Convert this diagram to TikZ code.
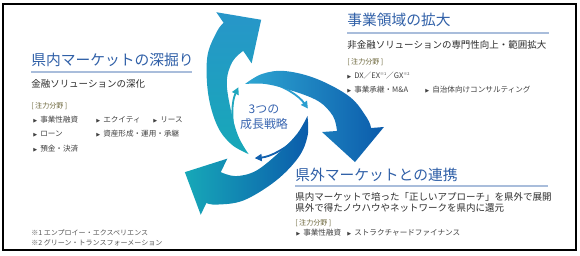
\documentclass[tikz,border=0pt]{standalone}
\usepackage{fontspec}
\setmainfont{Noto Sans CJK JP}
\newfontfamily\symf{DejaVu Sans}
\usepackage{tikz}
\usetikzlibrary{arrows.meta}
\usepackage{xcolor}

\definecolor{ttlblue}{HTML}{2F5FA7}
\definecolor{ruleblue}{HTML}{A9BDDB}
\definecolor{leadtxt}{HTML}{2B2B2B}
\definecolor{focustxt}{HTML}{6A6438}
\definecolor{itemtxt}{HTML}{404040}
\definecolor{notetxt}{HTML}{555555}
\definecolor{coreblue}{HTML}{3A66B0}
\definecolor{arrteal}{HTML}{17A8B8}
\definecolor{arrtealtop}{HTML}{2796C9}
\definecolor{arrlight}{HTML}{2EA6D2}
\definecolor{arrblue}{HTML}{0B5BAB}
\definecolor{pinteal}{HTML}{1FA7BE}
\definecolor{pinlight}{HTML}{2B9ED0}
\definecolor{pinblue}{HTML}{1160AE}

\newcommand{\bul}{{\symf\fontsize{3.6}{4}\selectfont ▶}\hspace{2.2pt}}
\newcommand{\fnm}[1]{\raisebox{0.7ex}{\fontsize{2.8}{3}\selectfont #1}}

\begin{document}
\begin{tikzpicture}[
    x=0.025cm, y=0.025cm,
    ttl/.style={anchor=west, inner sep=0pt, text=ttlblue, font=\fontsize{10.5}{12}\selectfont},
    lead/.style={anchor=west, inner sep=0pt, text=leadtxt, font=\fontsize{6.75}{8}\selectfont},
    focus/.style={anchor=west, inner sep=0pt, text=focustxt, font=\fontsize{5}{6}\selectfont},
    item/.style={anchor=west, inner sep=0pt, text=itemtxt, font=\fontsize{5.4}{6}\selectfont},
    note/.style={anchor=west, inner sep=0pt, text=notetxt, font=\fontsize{5}{6}\selectfont},
    rule/.style={draw=ruleblue, line width=1.3pt},
    core/.style={align=center, inner sep=0pt, text=coreblue, font=\fontsize{8.5}{10.7}\selectfont},
    shA/.style={bottom color=arrteal, top color=arrtealtop},
    shB/.style={left color=arrlight, right color=arrblue},
    shC/.style={left color=arrteal, right color=arrblue},
    pinA/.style={draw=pinteal, line width=1.3pt, -{Triangle[length=5pt,width=5pt]}},
    pinB/.style={draw=pinlight, line width=1.3pt, -{Triangle[length=5pt,width=5pt]}},
    pinC/.style={draw=pinblue, line width=1.3pt, -{Triangle[length=5pt,width=5pt]}}
]
    \useasboundingbox (0,0) rectangle (580,256);
    \draw[line width=0.8pt] (3,6) rectangle (576,252);

    % growth cycle: three spiral arrows round the centre
    \begin{scope}[shift={(267,138)}]
        \foreach \rot/\pin in {0/pinB, 120/pinA, -120/pinC}
            \draw[\pin] ({\rot+88}:36) .. controls ({\rot+62}:36) and ({\rot+35}:39) .. ({\rot+13}:42);
        \foreach \rot/\shd in {0/shB, 120/shA, -120/shC}
            \path[\shd] plot[smooth, tension=0.6] coordinates {({\rot+122.9}:40.5) ({\rot+96.5}:44.3) ({\rot+69}:50.3) ({\rot+38}:63.4) ({\rot+14.2}:85.6) ({\rot}:100) ({\rot-5.5}:104.5)}
                -- ({\rot-4.4}:117.3) -- ({\rot-26.6}:98.4) -- ({\rot-14.3}:56.8)
                -- plot[smooth, tension=0.6] coordinates {({\rot-10.5}:71.2) ({\rot+1.7}:66) ({\rot+18.4}:53.8) ({\rot+50.6}:36.2) ({\rot+93.4}:34.1) ({\rot+122.9}:40.5)} -- cycle;
    \end{scope}
    \node[core] (core) at (264,138.5) {3つの\\成長戦略};

    % left block
    \node[ttl] (ttlL) at (31,196) {県内マーケットの深掘り};
    \draw[rule] (31,184) -- (192,184);
    \node[lead] (leadL) at (31,172) {金融ソリューションの深化};
    \node[focus] (focL) at (31,150) {[ 注力分野 ]};
    \node[item] (itL1) at (33,136) {\bul 事業性融資};
    \node[item] (itL2) at (96,136) {\bul エクイティ};
    \node[item] (itL3) at (153,136) {\bul リース};
    \node[item] (itL4) at (33,122) {\bul ローン};
    \node[item] (itL5) at (96,122) {\bul 資産形成・運用・承継};
    \node[item] (itL6) at (33,107) {\bul 預金・決済};

    % right block
    \node[ttl] (ttlR) at (347,236) {事業領域の拡大};
    \draw[rule] (347,223) -- (549,223);
    \node[lead] (leadR) at (347,211) {非金融ソリューションの専門性向上・範囲拡大};
    \node[focus] (focR) at (347,194) {[ 注力分野 ]};
    \node[item] (itR1) at (347,180) {\bul DX／EX\fnm{※1}／GX\fnm{※2}};
    \node[item] (itR2) at (347,166) {\bul 事業承継・M\&A};
    \node[item] (itR3) at (425,166) {\bul 自治体向けコンサルティング};

    % bottom block
    \node[ttl] (ttlB) at (295,81) {県外マーケットとの連携};
    \draw[rule] (295,70) -- (548,70);
    \node[lead] (leadB1) at (295,59) {県内マーケットで培った「正しいアプローチ」を県外で展開};
    \node[lead] (leadB2) at (295,48) {県外で得たノウハウやネットワークを県内に還元};
    \node[focus] (focB) at (295,33) {[ 注力分野 ]};
    \node[item] (itB1) at (296,23) {\bul 事業性融資};
    \node[item] (itB2) at (347,23) {\bul ストラクチャードファイナンス};

    % notes
    \node[note] (fn1) at (31,23) {※1 エンプロイー・エクスペリエンス};
    \node[note] (fn2) at (31,13) {※2 グリーン・トランスフォーメーション};
\end{tikzpicture}
\end{document}
